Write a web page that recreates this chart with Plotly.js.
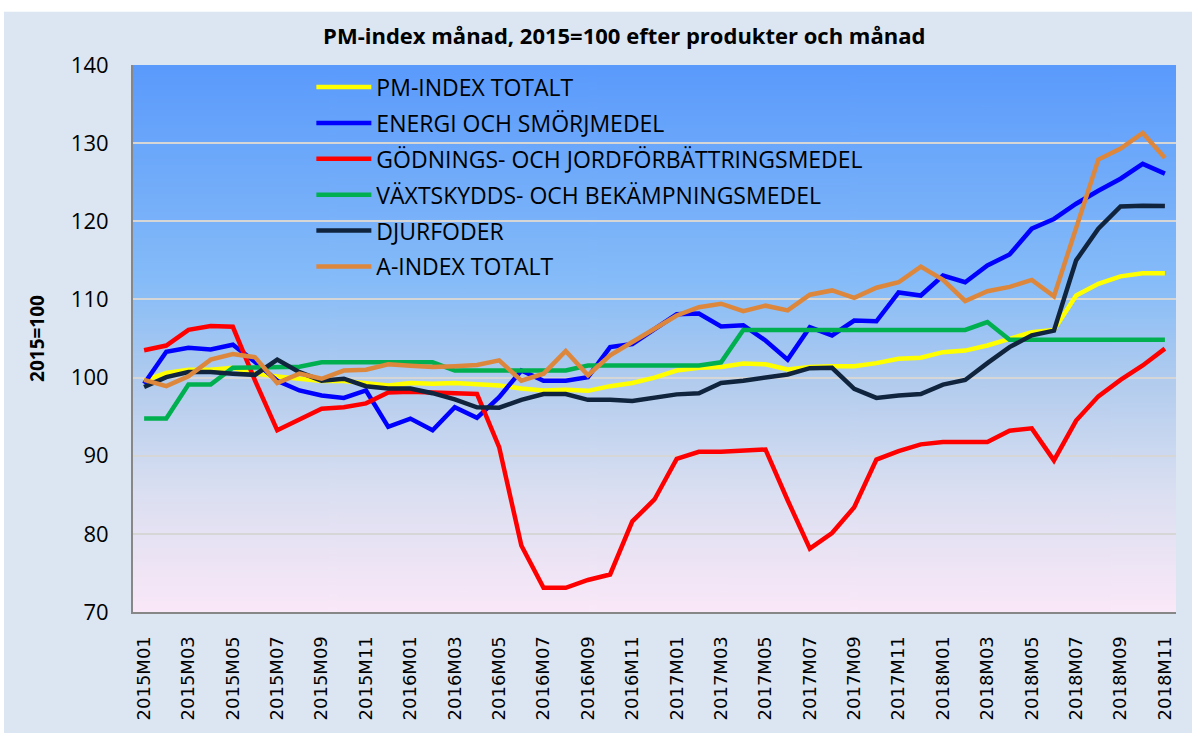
<!DOCTYPE html>
<html>
<head>
<meta charset="utf-8">
<script src="https://cdn.plot.ly/plotly-3.0.1.min.js"></script>
<style>
html,body{margin:0;padding:0;background:#ffffff;}
#chart{width:1192px;height:733px;}
</style>
</head>
<body>
<div id="chart"></div>
<script>
const months = [
  "2015M01","2015M02","2015M03","2015M04","2015M05","2015M06","2015M07","2015M08","2015M09","2015M10","2015M11","2015M12",
  "2016M01","2016M02","2016M03","2016M04","2016M05","2016M06","2016M07","2016M08","2016M09","2016M10","2016M11","2016M12",
  "2017M01","2017M02","2017M03","2017M04","2017M05","2017M06","2017M07","2017M08","2017M09","2017M10","2017M11","2017M12",
  "2018M01","2018M02","2018M03","2018M04","2018M05","2018M06","2018M07","2018M08","2018M09","2018M10","2018M11"
];
const tickLabels = [
  "2015M01","2015M03","2015M05","2015M07","2015M09","2015M11",
  "2016M01","2016M03","2016M05","2016M07","2016M09","2016M11",
  "2017M01","2017M03","2017M05","2017M07","2017M09","2017M11",
  "2018M01","2018M03","2018M05","2018M07","2018M09","2018M11"
];
const yTicks = [70, 80, 90, 100, 110, 120, 130, 140];

const pmIndexTotalt = [
  99.6, 100.6, 101.0, 101.0, 101.25, 100.5, 100.15, 99.85, 99.55, 99.55, 99.3, 99.0,
  99.3, 99.2, 99.3, 99.2, 99.0, 98.6, 98.35, 98.45, 98.3, 98.9, 99.3, 100.0,
  100.9, 101.25, 101.35, 101.8, 101.7, 101.05, 101.35, 101.45, 101.45, 101.85, 102.4, 102.55,
  103.25, 103.45, 104.1, 104.95, 105.8, 106.1, 110.5, 112.0, 112.95, 113.35, 113.35
];
const energiSmorjmedel = [
  99.2, 103.3, 103.8, 103.6, 104.2, 102.0, 99.6, 98.35, 97.7, 97.4, 98.35, 93.7,
  94.75, 93.25, 96.2, 94.85, 97.5, 100.9, 99.6, 99.6, 100.05, 103.9, 104.3, 106.25,
  108.1, 108.2, 106.55, 106.7, 104.75, 102.3, 106.45, 105.4, 107.3, 107.2, 110.9, 110.5,
  113.05, 112.2, 114.35, 115.75, 119.05, 120.3, 122.25, 123.9, 125.45, 127.35, 126.1
];
const godningsmedel = [
  103.5, 104.1, 106.1, 106.6, 106.5, 99.6, 93.25, 94.6, 96.0, 96.2, 96.7, 98.1,
  98.2, 98.1, 98.0, 97.9, 91.1, 78.5, 73.1, 73.1, 74.1, 74.8, 81.6, 84.4,
  89.6, 90.5, 90.5, 90.6, 90.8, 84.3, 78.1, 80.1, 83.4, 89.5, 90.6, 91.45,
  91.75, 91.75, 91.75, 93.2, 93.5, 89.4, 94.5, 97.6, 99.7, 101.55, 103.7
];
const vaxtskyddsmedel = [
  94.75, 94.75, 99.1, 99.1, 101.25, 101.3, 101.3, 101.4, 101.95, 101.95, 101.95, 101.95,
  101.95, 101.95, 100.9, 100.9, 100.9, 100.9, 100.9, 100.9, 101.55, 101.55, 101.55, 101.55,
  101.55, 101.55, 101.95, 106.1, 106.1, 106.1, 106.1, 106.1, 106.1, 106.1, 106.1, 106.1,
  106.1, 106.1, 107.1, 104.85, 104.85, 104.85, 104.85, 104.85, 104.85, 104.85, 104.85
];
const djurfoder = [
  98.8, 100.05, 100.7, 100.7, 100.5, 100.35, 102.3, 100.7, 99.6, 99.85, 98.9, 98.6,
  98.6, 98.0, 97.2, 96.2, 96.15, 97.15, 97.9, 97.9, 97.15, 97.15, 97.0, 97.4,
  97.85, 98.0, 99.3, 99.6, 100.0, 100.4, 101.2, 101.25, 98.55, 97.4, 97.7, 97.9,
  99.1, 99.7, 101.85, 103.9, 105.4, 106.0, 115.0, 119.05, 121.9, 122.0, 121.95
];
const aIndexTotalt = [
  99.7, 98.9, 100.15, 102.3, 103.0, 102.6, 99.3, 100.5, 99.85, 100.9, 101.0, 101.7,
  101.5, 101.35, 101.45, 101.6, 102.2, 99.6, 100.5, 103.4, 100.3, 102.85, 104.55, 106.25,
  107.95, 109.0, 109.45, 108.5, 109.2, 108.6, 110.6, 111.15, 110.2, 111.5, 112.2, 114.2,
  112.5, 109.8, 111.05, 111.6, 112.5, 110.4, 119.25, 127.9, 129.3, 131.3, 128.1
];

const seriesNames = [
  "PM-INDEX TOTALT",
  "ENERGI OCH SMÖRJMEDEL",
  "GÖDNINGS- OCH JORDFÖRBÄTTRINGSMEDEL",
  "VÄXTSKYDDS- OCH BEKÄMPNINGSMEDEL",
  "DJURFODER",
  "A-INDEX TOTALT"
];
const seriesValues = [pmIndexTotalt, energiSmorjmedel, godningsmedel, vaxtskyddsmedel, djurfoder, aIndexTotalt];
const seriesColors = ["#ffff00", "#0000ff", "#ff0000", "#00b050", "#10243e", "#dd873d"];

const traces = seriesNames.map((name, i) => ({
  type: "scatter",
  mode: "lines",
  name: name,
  x: months,
  y: seriesValues[i],
  legendgroup: "g" + i,
  line: {color: seriesColors[i], width: 4.5, shape: "linear"},
  hoverinfo: "x+y+name"
}));

// gradient background for plot area
function gradientURL() {
  const c = document.createElement("canvas");
  c.width = 8; c.height = 600;
  const ctx = c.getContext("2d");
  const g = ctx.createLinearGradient(0, 0, 0, 600);
  g.addColorStop(0.0, "#5a9afc");
  g.addColorStop(0.40, "#86bcf8");
  g.addColorStop(0.58, "#b2ccee");
  g.addColorStop(0.78, "#dadff1");
  g.addColorStop(1.0, "#fae8f8");
  ctx.fillStyle = g;
  ctx.fillRect(0, 0, 8, 600);
  return c.toDataURL("image/png");
}

const layout = {
  width: 1192,
  height: 733,
  paper_bgcolor: "#dce6f2",
  plot_bgcolor: "rgba(0,0,0,0)",
  margin: {l: 133, r: 16, t: 65, b: 121, pad: 0},
  showlegend: true,
  title: {
    text: "<b>PM-index månad, 2015=100 efter produkter och månad</b>",
    font: {family: "Open Sans, Liberation Sans, sans-serif", size: 22, color: "#000000"},
    x: 0.471, xanchor: "center", xref: "paper",
    y: 0.951, yanchor: "middle", yref: "container"
  },
  xaxis: {
    type: "category",
    range: [-0.5, months.length - 0.5],
    tickmode: "array",
    tickvals: tickLabels,
    ticktext: tickLabels,
    tickangle: -90,
    tickfont: {family: "DejaVu Sans, sans-serif", size: 18, color: "#000000"},
    ticks: "",
    ticklabelstandoff: 15,
    showgrid: false,
    showline: true,
    linecolor: "#878787",
    linewidth: 2,
    zeroline: false,
    fixedrange: true
  },
  yaxis: {
    range: [70, 140],
    tickmode: "array",
    tickvals: yTicks,
    ticktext: yTicks.map(String),
    tickfont: {family: "Open Sans, Liberation Sans, sans-serif", size: 22, color: "#000000"},
    ticks: "",
    ticklabelstandoff: 18,
    showgrid: true,
    gridcolor: "#d6d6d6",
    gridwidth: 2,
    showline: true,
    linecolor: "#878787",
    linewidth: 2,
    zeroline: false,
    fixedrange: true,
    title: {
      text: "<b>2015=100</b>",
      font: {family: "Open Sans, Liberation Sans, sans-serif", size: 19, color: "#000000"},
      standoff: 21
    }
  },
  legend: {
    x: 0.171, xanchor: "left",
    y: 0.999, yanchor: "top",
    bgcolor: "rgba(0,0,0,0)",
    borderwidth: 0,
    font: {family: "Open Sans, Liberation Sans, sans-serif", size: 23, color: "#000000"},
    itemwidth: 55,
    tracegroupgap: 3,
    traceorder: "grouped",
    itemclick: false,
    itemdoubleclick: false
  },
  images: [{
    source: gradientURL(),
    xref: "x domain", yref: "y domain",
    x: 0, y: 1, sizex: 1, sizey: 1,
    xanchor: "left", yanchor: "top",
    sizing: "stretch",
    layer: "below"
  }],
  shapes: [
    {type: "rect", xref: "paper", yref: "paper", x0: -0.2, x1: 1.1, y0: 1.0975, y1: 1.2,
     fillcolor: "#ffffff", line: {width: 0}, layer: "below"},
    {type: "rect", xref: "paper", yref: "paper", x0: -0.2, x1: -0.1237, y0: -0.3, y1: 1.2,
     fillcolor: "#ffffff", line: {width: 0}, layer: "below"}
  ]
};

Plotly.newPlot("chart", traces, layout, {displayModeBar: false, responsive: false});
</script>
</body>
</html>
